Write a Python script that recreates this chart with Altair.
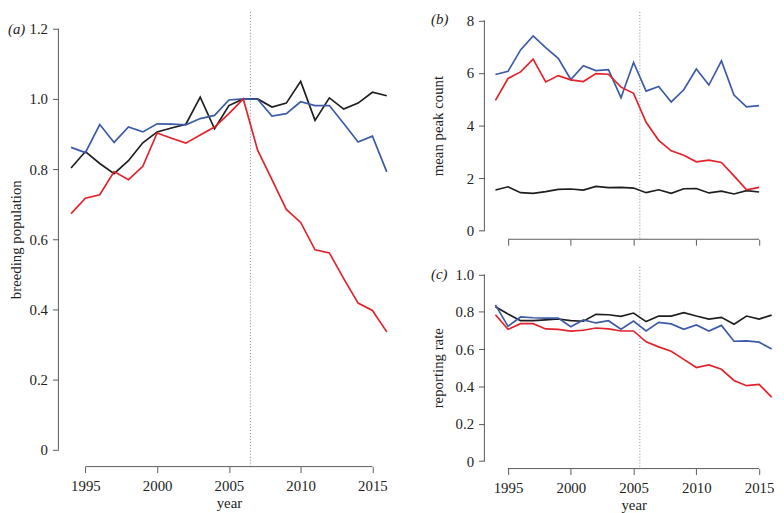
import altair as alt
import pandas as pd

# ---------------- data ----------------
years_a = list(range(1994, 2017))
years_b = list(range(1994, 2016))
years_c = list(range(1994, 2017))

a_black = [0.803, 0.850, 0.816, 0.787, 0.824, 0.875, 0.906, 0.917, 0.928, 1.005, 0.915, 0.981,
           1.000, 1.000, 0.977, 0.988, 1.050, 0.939, 1.003, 0.971, 0.988, 1.019, 1.009]
a_blue = [0.862, 0.847, 0.927, 0.876, 0.920, 0.906, 0.929, 0.928, 0.926, 0.944, 0.953, 0.997,
          1.000, 0.999, 0.951, 0.958, 0.992, 0.981, 0.981, 0.930, 0.877, 0.894, 0.792]
a_red = [0.673, 0.717, 0.727, 0.793, 0.770, 0.808, 0.903, 0.888, 0.874, 0.897, 0.920, 0.958,
         1.000, 0.854, 0.770, 0.685, 0.648, 0.570, 0.561, 0.488, 0.418, 0.397, 0.336]

b_black = [1.55, 1.675, 1.45, 1.425, 1.49, 1.575, 1.59, 1.55, 1.69, 1.64, 1.65, 1.625,
           1.45, 1.56, 1.425, 1.60, 1.61, 1.44, 1.51, 1.40, 1.525, 1.475]
b_blue = [5.94, 6.06, 6.875, 7.41, 6.96, 6.56, 5.75, 6.275, 6.09, 6.125, 5.06, 6.40,
          5.31, 5.49, 4.90, 5.36, 6.15, 5.54, 6.46, 5.16, 4.71, 4.76]
b_red = [4.96, 5.79, 6.04, 6.525, 5.66, 5.90, 5.74, 5.675, 5.975, 5.95, 5.46, 5.225,
         4.125, 3.44, 3.04, 2.875, 2.625, 2.69, 2.60, 2.09, 1.56, 1.65]

c_black = [0.827, 0.788, 0.752, 0.752, 0.756, 0.761, 0.752, 0.749, 0.786, 0.784, 0.775, 0.793,
           0.747, 0.777, 0.777, 0.795, 0.777, 0.761, 0.770, 0.733, 0.777, 0.761, 0.782]
c_blue = [0.837, 0.722, 0.772, 0.768, 0.766, 0.766, 0.720, 0.756, 0.740, 0.752, 0.706, 0.750,
          0.697, 0.743, 0.735, 0.706, 0.729, 0.697, 0.727, 0.642, 0.644, 0.637, 0.600]
c_red = [0.784, 0.706, 0.736, 0.736, 0.708, 0.706, 0.696, 0.701, 0.713, 0.708, 0.697, 0.697,
         0.639, 0.612, 0.588, 0.545, 0.501, 0.515, 0.492, 0.432, 0.404, 0.411, 0.343]

series_names = ["black", "blue", "red"]
series_colors = ["#1e1e1e", "#3c5aa6", "#e3222a"]
x_ticks = [1995, 2000, 2005, 2010, 2015]

FONT = "Liberation Serif"
FS = 15
AX = "#5a5a5a"
TXT = "#222222"


def long_df(years, black, blue, red):
    rows = []
    for name, vals in zip(series_names, [black, blue, red]):
        for y, v in zip(years, vals):
            rows.append({"year": y, "value": v, "series": name})
    return pd.DataFrame(rows)


def panel(df, xdom, ydom, W, H, yvals, ylabel_expr, ytitle, ytitle_x, label, label_x,
          label_y, vline, show_xlabels, xtitle_x=None):
    xscale = alt.Scale(domain=xdom, nice=False, zero=False)
    yscale = alt.Scale(domain=ydom, nice=False, zero=False)

    xaxis_kw = dict(values=x_ticks, format="d", domain=False, grid=False, tickSize=6,
                    tickColor=AX, tickWidth=1, labels=show_xlabels, labelFont=FONT,
                    labelFontSize=FS, labelPadding=6, labelColor=TXT, labelFlush=False)
    if show_xlabels:
        xaxis_kw.update(title="year", titleFont=FONT, titleFontSize=FS,
                        titleFontWeight="normal", titleColor=TXT,
                        titleBaseline="alphabetic", titleY=41)
        if xtitle_x is not None:
            xaxis_kw.update(titleX=xtitle_x)
    else:
        xaxis_kw.update(title=None)

    yaxis = alt.Axis(values=yvals, labelExpr=ylabel_expr, domain=False, grid=False,
                     tickSize=6, tickColor=AX, tickWidth=1, labelFont=FONT, labelFontSize=FS,
                     labelPadding=5, labelColor=TXT, labelFlush=False, title=ytitle,
                     titleFont=FONT, titleFontSize=FS, titleFontWeight="normal",
                     titleColor=TXT, titleX=ytitle_x, titleY=H / 2, titleAngle=270,
                     titleAlign="center", titleBaseline="middle")

    lines = alt.Chart(df).mark_line(strokeWidth=1.7).encode(
        x=alt.X("year:Q", scale=xscale, axis=alt.Axis(**xaxis_kw)),
        y=alt.Y("value:Q", scale=yscale, axis=yaxis),
        color=alt.Color("series:N", scale=alt.Scale(domain=series_names, range=series_colors),
                        legend=None),
        order=alt.Order("series:N"),
    )
    one = pd.DataFrame({"t": [label]})
    vrule = alt.Chart(one).mark_rule(strokeDash=[1, 2], color="#8a8a8a", strokeWidth=1).encode(
        x=alt.datum(vline)
    )
    xline = alt.Chart(one).mark_rule(color=AX, strokeWidth=1).encode(
        x=alt.datum(x_ticks[0]), x2=alt.datum(x_ticks[-1]), y=alt.value(H)
    )
    yline = alt.Chart(one).mark_rule(color=AX, strokeWidth=1).encode(
        x=alt.value(0), y=alt.datum(yvals[0]), y2=alt.datum(yvals[-1])
    )
    txt = alt.Chart(one).mark_text(align="left", baseline="middle", font=FONT, fontSize=FS,
                                   fontStyle="italic", color=TXT).encode(
        x=alt.value(label_x), y=label_y, text="t:N"
    )
    return alt.layer(vrule, lines, xline, yline, txt).properties(width=W, height=H)


df_a = long_df(years_a, a_black, a_blue, a_red)
df_b = long_df(years_b, b_black, b_blue, b_red)
df_c = long_df(years_c, c_black, c_blue, c_red)

fmt1 = "datum.value == 0 ? '0' : format(datum.value, '.1f')"
fmt0 = "format(datum.value, 'd')"

pa = panel(df_a, [1993.12, 2016.88], [-0.048, 1.248], 345, 460,
           [0, 0.2, 0.4, 0.6, 0.8, 1.0, 1.2], fmt1, "breeding population", -43,
           "(a)", -51, alt.datum(1.2), 2006.5, True)
pb = panel(df_b, [1993.12, 2016.11], [-0.32, 8.32], 292, 230,
           [0, 2, 4, 6, 8], fmt0, "mean peak count", -47,
           "(b)", -54, alt.value(7), 2005.5, False)
pc = panel(df_c, [1993.12, 2016.11], [-0.04, 1.04], 292, 204,
           [0, 0.2, 0.4, 0.6, 0.8, 1.0], fmt1, "reporting rate", -47,
           "(c)", -54, alt.datum(1.0), 2005.5, True, xtitle_x=151)

right = alt.vconcat(pb, pc, spacing=20)
chart = alt.hconcat(pa, right, spacing=32).properties(padding=0).configure(
    font=FONT, view=alt.ViewConfig(stroke=None)
)

chart.save("out.html", embed_options={"renderer": "svg", "actions": False})
